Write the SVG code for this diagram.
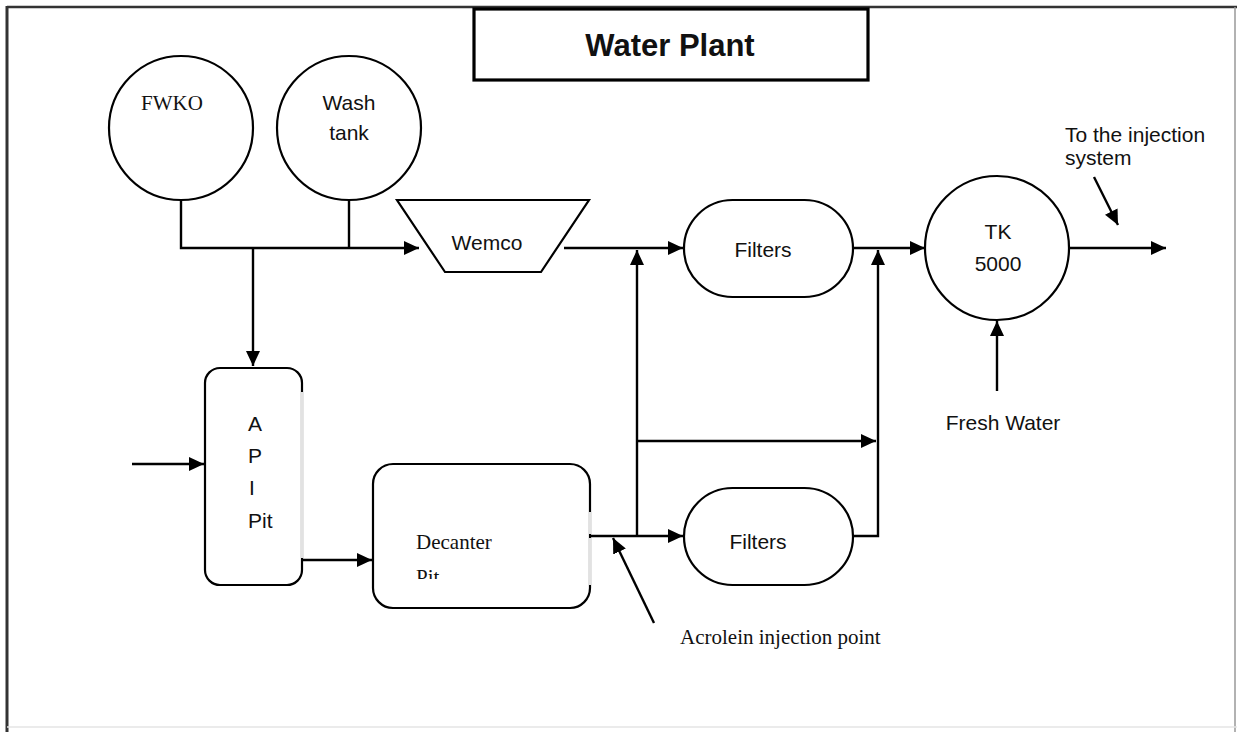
<svg xmlns="http://www.w3.org/2000/svg" width="1237" height="732" viewBox="0 0 1237 732">
<style>
.sh{fill:#fff;stroke:#000;stroke-width:2.2}
.ln{fill:none;stroke:#000;stroke-width:2.4}
.sans{font-family:"Liberation Sans",Arial,sans-serif;font-size:21px;fill:#111}
.serif{font-family:"Liberation Serif","Times New Roman",serif;font-size:21px;fill:#111}
.faint{stroke:#e2e2e2;stroke-width:2.8}
</style>
<defs>
<marker id="ah" markerUnits="userSpaceOnUse" markerWidth="16" markerHeight="14" refX="15" refY="7" orient="auto">
<path d="M0,0 L15,7 L0,14 Z" fill="#000"/>
</marker>
<clipPath id="pitclip"><rect x="400" y="555" width="100" height="24"/></clipPath>
</defs>
<rect x="0" y="0" width="1237" height="732" fill="#fff"/>
<g id="frame">
<line x1="7" y1="7" x2="1237" y2="7" stroke="#333" stroke-width="2.5"/>
<line x1="7" y1="6" x2="7" y2="732" stroke="#333" stroke-width="3"/>
<line x1="1235" y1="7" x2="1235" y2="732" stroke="#999" stroke-width="1.5"/>
<line x1="7" y1="727" x2="1237" y2="727" stroke="#e4e4e4" stroke-width="1.5"/>
</g>
<g id="title">
<rect x="474" y="9" width="394" height="71" fill="#fff" stroke="#000" stroke-width="3.2"/>
<text x="670" y="56" text-anchor="middle" font-family="'Liberation Sans',Arial,sans-serif" font-size="31" font-weight="bold" fill="#111">Water Plant</text>
</g>
<g id="connectors">
<polyline class="ln" points="181,201 181,248 419,248" marker-end="url(#ah)"/>
<line class="ln" x1="349" y1="201" x2="349" y2="248"/>
<line class="ln" x1="253" y1="248" x2="253" y2="366" marker-end="url(#ah)"/>
<line class="ln" x1="564" y1="248" x2="683" y2="248" marker-end="url(#ah)"/>
<line class="ln" x1="637" y1="536" x2="637" y2="250" marker-end="url(#ah)"/>
<line class="ln" x1="637" y1="441" x2="876" y2="441" marker-end="url(#ah)"/>
<line class="ln" x1="853" y1="248" x2="925" y2="248" marker-end="url(#ah)"/>
<polyline class="ln" points="853,536 878,536 878,250" marker-end="url(#ah)"/>
<line class="ln" x1="1069" y1="248" x2="1166" y2="248" marker-end="url(#ah)"/>
<line class="ln" x1="997" y1="391" x2="997" y2="321" marker-end="url(#ah)"/>
<line class="ln" x1="1094" y1="177" x2="1118" y2="225" marker-end="url(#ah)"/>
<line class="ln" x1="132" y1="464" x2="204" y2="464" marker-end="url(#ah)"/>
<line class="ln" x1="302" y1="560" x2="372" y2="560" marker-end="url(#ah)"/>
<line class="ln" x1="590" y1="536" x2="683" y2="536" marker-end="url(#ah)"/>
<line class="ln" x1="654" y1="623" x2="613" y2="538" marker-end="url(#ah)"/>
</g>
<g id="fwko">
<circle class="sh" cx="181" cy="128" r="72"/>
<text class="serif" x="172" y="110" text-anchor="middle" font-size="17">FWKO</text>
</g>
<g id="washtank">
<circle class="sh" cx="349" cy="128" r="72"/>
<text class="sans" x="349" y="110" text-anchor="middle" font-size="17">Wash</text>
<text class="sans" x="349" y="140" text-anchor="middle" font-size="17">tank</text>
</g>
<g id="wemco">
<polygon class="sh" points="397,200 589,200 541,272 445,272"/>
<text class="sans" x="487" y="250" text-anchor="middle" font-size="20">Wemco</text>
</g>
<g id="filters1">
<rect class="sh" x="684" y="200" width="169" height="97" rx="48.5"/>
<text class="sans" x="763" y="257" text-anchor="middle">Filters</text>
</g>
<g id="tk5000">
<circle class="sh" cx="997" cy="248" r="72"/>
<text class="sans" x="998" y="239" text-anchor="middle" font-size="20">TK</text>
<text class="sans" x="998" y="271" text-anchor="middle" font-size="20">5000</text>
</g>
<g id="api-pit">
<rect class="sh" x="205" y="368" width="97" height="217" rx="15"/>
<line class="faint" x1="302" y1="392" x2="302" y2="558"/>
<text class="sans" x="248" y="431" font-size="20">A</text>
<text class="sans" x="248" y="463" font-size="20">P</text>
<text class="sans" x="249" y="495" font-size="20">I</text>
<text class="sans" x="248" y="528" font-size="20">Pit</text>
</g>
<g id="decanter-pit">
<rect class="sh" x="373" y="464" width="217" height="144" rx="20"/>
<line class="faint" x1="590" y1="512" x2="590" y2="534"/>
<line class="faint" x1="590" y1="538" x2="590" y2="585"/>
<text class="serif" x="416" y="549">Decanter</text>
<text class="serif" x="416" y="584" clip-path="url(#pitclip)">Pit</text>
</g>
<g id="filters2">
<rect class="sh" x="684" y="488" width="169" height="97" rx="48.5"/>
<text class="sans" x="758" y="549" text-anchor="middle">Filters</text>
</g>
<g id="labels">
<text class="sans" x="1065" y="142">To the injection</text>
<text class="sans" x="1065" y="165">system</text>
<text class="sans" x="1003" y="430" text-anchor="middle">Fresh Water</text>
<text class="serif" x="680" y="644" font-size="20">Acrolein injection point</text>
</g>
</svg>
